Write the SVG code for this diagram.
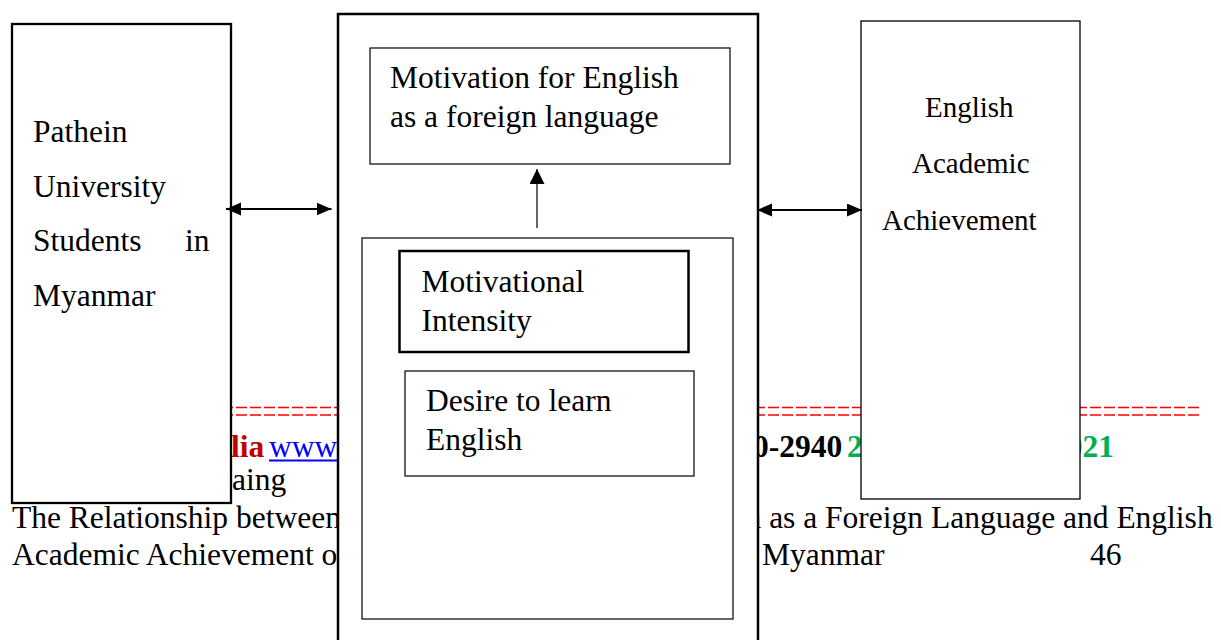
<svg xmlns="http://www.w3.org/2000/svg" width="1221" height="640" viewBox="0 0 1221 640">
<defs>
<style>
text{font-family:"Liberation Serif","Times New Roman",serif;font-size:31.5px;fill:#000}
.b{font-weight:bold}
.box{fill:#fff;stroke:#000}
</style>
<marker id="ah" markerUnits="userSpaceOnUse" markerWidth="16" markerHeight="14" refX="15" refY="6.5" orient="auto-start-reverse">
<path d="M0,0 L15,6.5 L0,13 z" fill="#000"/>
</marker>
<marker id="ah2" markerUnits="userSpaceOnUse" markerWidth="16" markerHeight="16" refX="15" refY="7.5" orient="auto">
<path d="M0,0 L15,7.5 L0,15 z" fill="#000"/>
</marker>
</defs>
<rect width="1221" height="640" fill="#fff"/>
<g id="page-footer">
<line x1="12" y1="407.5" x2="1199" y2="407.5" stroke="#f00" stroke-width="1.5" stroke-dasharray="11 3"/>
<line x1="12" y1="415" x2="1199" y2="415" stroke="#f00" stroke-width="1.5" stroke-dasharray="11 3"/>
<text x="231" y="456.5" class="b" style="fill:#C00000">lia</text>
<text x="269" y="456.5" style="fill:#0000FF">www</text>
<line x1="269" y1="460.5" x2="338" y2="460.5" stroke="#0000FF" stroke-width="2"/>
<text x="753" y="456.5" class="b">0-2940</text>
<text x="847" y="456.5" class="b" style="fill:#00B050">2</text>
<text x="1114" y="456.5" class="b" text-anchor="end" style="fill:#00B050">021</text>
<text x="232" y="490">aing</text>
<text x="12" y="528">The Relationship between</text>
<text x="745.5" y="528">n as a Foreign Language and English</text>
<text x="12" y="565">Academic Achievement of</text>
<text x="762" y="565">Myanmar</text>
<text x="1090" y="565">46</text>
</g>
<g id="node-students">
<rect class="box" x="12" y="24" width="219" height="479" stroke-width="2.3"/>
<text x="33" y="142">Pathein</text>
<text x="33" y="197">University</text>
<text x="33" y="251">Students</text>
<text x="185" y="251">in</text>
<text x="33" y="306">Myanmar</text>
</g>
<g id="node-motivation">
<rect class="box" x="338" y="14" width="420" height="640" stroke-width="2.5"/>
</g>
<g id="node-motivation-efl">
<rect class="box" x="370" y="48" width="360" height="116" stroke-width="1.2"/>
<text x="390" y="88">Motivation for English</text>
<text x="390" y="127">as a foreign language</text>
</g>
<g id="node-components">
<rect class="box" x="362" y="238" width="371" height="381" stroke-width="1.2"/>
</g>
<g id="node-intensity">
<rect class="box" x="399.5" y="251" width="289" height="101" stroke-width="2.5"/>
<text x="421.5" y="292">Motivational</text>
<text x="421.5" y="331">Intensity</text>
</g>
<g id="node-desire">
<rect class="box" x="405" y="371" width="289" height="105" stroke-width="1.2"/>
<text x="426" y="411">Desire to learn</text>
<text x="426" y="450">English</text>
</g>
<g id="node-achievement">
<rect class="box" x="861" y="21" width="219" height="478" stroke="#404040" stroke-width="1.3"/>
<text x="925" y="117" style="font-size:29px">English</text>
<text x="912" y="173" style="font-size:29px">Academic</text>
<text x="882" y="230" style="font-size:29px">Achievement</text>
</g>
<g id="connectors" stroke="#000" fill="none">
<line x1="226" y1="209" x2="331.5" y2="209" stroke-width="2" marker-start="url(#ah)" marker-end="url(#ah)"/>
<line x1="757" y1="210" x2="862" y2="210" stroke-width="2" marker-start="url(#ah)" marker-end="url(#ah)"/>
<line x1="537" y1="228" x2="537" y2="169" stroke-width="1.2" marker-end="url(#ah2)"/>
</g>
</svg>
